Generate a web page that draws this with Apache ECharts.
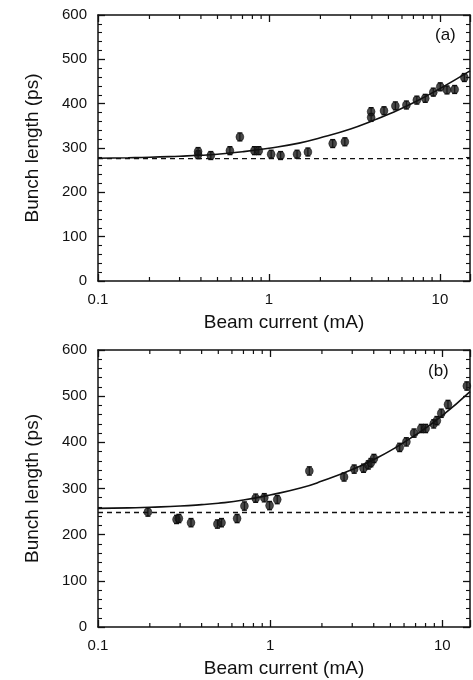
<!DOCTYPE html>
<html>
<head>
<meta charset="utf-8">
<script src="https://cdn.jsdelivr.net/npm/echarts@6/dist/echarts.min.js"></script>
<style>
html, body { margin: 0; padding: 0; background: #fff; }
#main { width: 473px; height: 680px; }
</style>
</head>
<body>
<div id="main"></div>
<script>
// panel (a) measurements
const currentA = [0.385, 0.385, 0.457, 0.591, 0.676, 0.822, 0.872, 1.03, 1.17, 1.46, 1.69, 2.36, 2.78, 3.96, 3.96, 4.71, 5.49, 6.37, 7.33, 8.21, 9.15, 10.05, 11.0, 12.2, 13.9];
const lengthA = [285, 292, 283, 294, 325, 294, 294, 286, 283, 286, 291, 310, 314, 382, 369, 384, 395, 397, 408, 412, 426, 438, 431, 432, 459];
// fitted curve (a)
const fitCurrentA = [0.1, 0.15, 0.2, 0.3, 0.4, 0.5, 0.7, 1, 1.5, 2, 3, 4, 5, 7, 10, 15];
const fitLengthA = [277, 278, 279, 281.5, 283.5, 286, 291.5, 299.5, 311, 323, 343, 361, 376, 402, 434, 474];
const zeroLengthA = 276;

// panel (b) measurements
const currentB = [0.195, 0.286, 0.295, 0.347, 0.494, 0.522, 0.643, 0.709, 0.824, 0.925, 0.993, 1.10, 1.69, 2.69, 3.08, 3.49, 3.72, 3.85, 4.01, 5.66, 6.19, 6.86, 7.55, 8.01, 8.92, 9.31, 9.87, 10.8, 13.9];
const lengthB = [249, 233, 235, 226, 223, 226, 235, 262, 279, 280, 263, 276, 338, 325, 342, 344, 351, 356, 365, 389, 401, 420, 430, 430, 440, 447, 463, 482, 522];
const fitCurrentB = [0.1, 0.15, 0.2, 0.3, 0.4, 0.5, 0.7, 1, 1.5, 2, 3, 4, 5, 7, 10, 14.5];
const fitLengthB = [257, 258, 259.5, 262, 265, 268, 275, 286, 301, 316, 341, 363, 382, 416, 458, 510];
const zeroLengthB = 248;

const errBar = 9;
const logMinorTicks = [0.2, 0.3, 0.4, 0.5, 0.6, 0.7, 0.8, 0.9, 2, 3, 4, 5, 6, 7, 8, 9];
const xMaxA = 15, xMaxB = 14.5;

const chart = echarts.init(document.getElementById('main'));
const font = '"Liberation Sans", Arial, sans-serif';

function zip(xs, ys) {
    return xs.map((x, i) => [x, ys[i]]);
}

function errorBar(params, api) {
    const x = api.value(0), y = api.value(1), e = api.value(2);
    const top = api.coord([x, y + e]);
    const bot = api.coord([x, y - e]);
    const w = 2.5;
    const st = { stroke: '#111', lineWidth: 1.3 };
    return {
        type: 'group',
        children: [
            { type: 'line', shape: { x1: top[0], y1: top[1], x2: bot[0], y2: bot[1] }, style: st },
            { type: 'line', shape: { x1: top[0] - w, y1: top[1], x2: top[0] + w, y2: top[1] }, style: st },
            { type: 'line', shape: { x1: bot[0] - w, y1: bot[1], x2: bot[0] + w, y2: bot[1] }, style: st }
        ]
    };
}

// log minor ticks along top and bottom of the frame
function minorTick(params, api) {
    const v = api.value(0);
    const b = api.coord([v, 0]);
    const t = api.coord([v, 600]);
    const st = { stroke: '#111', lineWidth: 1.2 };
    return {
        type: 'group',
        children: [
            { type: 'line', shape: { x1: b[0], y1: b[1], x2: b[0], y2: b[1] - 4 }, style: st },
            { type: 'line', shape: { x1: t[0], y1: t[1], x2: t[0], y2: t[1] + 4 }, style: st }
        ]
    };
}

function xAxes(gridIndex, max) {
    const base = {
        type: 'log', logBase: 10, min: 0.1, max: max, gridIndex: gridIndex,
        axisLine: { onZero: false, lineStyle: { color: '#111', width: 1.5 } },
        axisTick: { inside: true, length: 7, lineStyle: { color: '#111', width: 1.3 } },
        splitLine: { show: false }
    };
    return [
        Object.assign({}, base, {
            position: 'bottom',
            axisLabel: {
                color: '#111', fontSize: 15, fontFamily: font, margin: 11,
                formatter: v => (v === 0.1 ? '0.1' : v === 1 ? '1' : v === 10 ? '10' : '')
            },
            name: 'Beam current (mA)', nameLocation: 'middle', nameGap: 32,
            nameTextStyle: { color: '#111', fontSize: 19, fontFamily: font }
        }),
        Object.assign({}, base, { position: 'top', axisLabel: { show: false } })
    ];
}

function yAxes(gridIndex) {
    const base = {
        type: 'value', min: 0, max: 600, interval: 100, gridIndex: gridIndex,
        axisLine: { show: true, onZero: false, lineStyle: { color: '#111', width: 1.5 } },
        axisTick: { show: true, inside: true, length: 7, lineStyle: { color: '#111', width: 1.3 } },
        minorTick: { show: true, splitNumber: 5, length: 4, lineStyle: { color: '#111', width: 1.1 } },
        splitLine: { show: false }
    };
    return [
        Object.assign({}, base, {
            position: 'left',
            axisLabel: { color: '#111', fontSize: 15, fontFamily: font, margin: 11 },
            name: 'Bunch length (ps)', nameLocation: 'middle', nameGap: 56,
            nameTextStyle: { color: '#111', fontSize: 19, fontFamily: font }
        }),
        Object.assign({}, base, { position: 'right', axisLabel: { show: false } })
    ];
}

function panelSeries(xi, yi, xs, ys, fx, fy, zero, max) {
    return [
        {
            type: 'line', xAxisIndex: xi, yAxisIndex: yi,
            data: [[0.1, zero], [max, zero]],
            symbol: 'none', lineStyle: { color: '#111', width: 1.4, type: [5, 4] }
        },
        {
            type: 'line', xAxisIndex: xi, yAxisIndex: yi,
            data: zip(fx, fy), smooth: true,
            symbol: 'none', lineStyle: { color: '#111', width: 1.6 }
        },
        {
            type: 'custom', xAxisIndex: xi, yAxisIndex: yi,
            data: xs.map((x, i) => [x, ys[i], errBar]),
            renderItem: errorBar
        },
        {
            type: 'scatter', xAxisIndex: xi, yAxisIndex: yi,
            data: zip(xs, ys), symbol: 'circle', symbolSize: 8,
            itemStyle: { color: '#1a1a1a', borderColor: '#000', borderWidth: 0.5 }
        },
        {
            type: 'custom', xAxisIndex: xi, yAxisIndex: yi,
            data: logMinorTicks.map(v => [v, 0]),
            renderItem: minorTick, silent: true
        }
    ];
}

const option = {
    backgroundColor: '#fff',
    animation: false,
    grid: [
        { left: 98, top: 15, right: 3, height: 266 },
        { left: 98, top: 350, right: 1, height: 277 }
    ],
    xAxis: xAxes(0, xMaxA).concat(xAxes(1, xMaxB)),
    yAxis: yAxes(0).concat(yAxes(1)),
    graphic: [
        { type: 'text', left: 435, top: 27, style: { text: '(a)', fill: '#111', font: '17px ' + font } },
        { type: 'text', left: 428, top: 363, style: { text: '(b)', fill: '#111', font: '17px ' + font } }
    ],
    series: panelSeries(0, 0, currentA, lengthA, fitCurrentA, fitLengthA, zeroLengthA, xMaxA)
        .concat(panelSeries(2, 2, currentB, lengthB, fitCurrentB, fitLengthB, zeroLengthB, xMaxB))
};

chart.setOption(option);
</script>
</body>
</html>
